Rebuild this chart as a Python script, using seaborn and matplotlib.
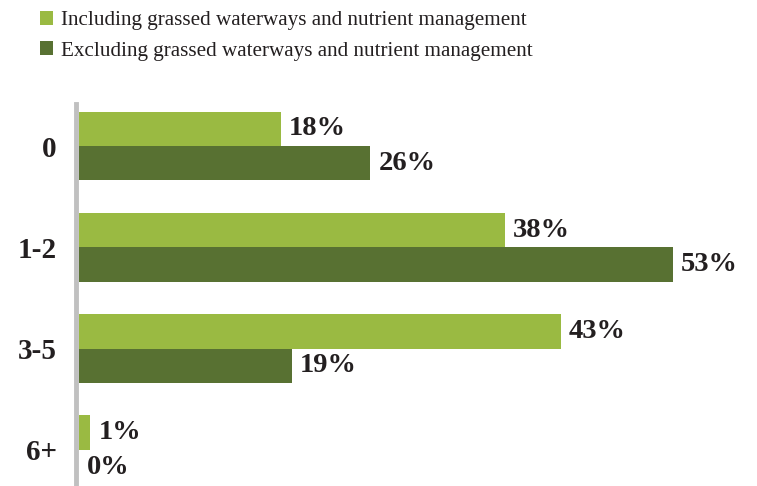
import matplotlib
matplotlib.use("Agg")
import matplotlib.pyplot as plt
import seaborn as sns
import pandas as pd
from matplotlib.patches import Patch

categories = ["0", "1-2", "3-5", "6+"]
including = [18, 38, 43, 1]
excluding = [26, 53, 19, 0]
series_names = [
    "Including grassed waterways and nutrient management",
    "Excluding grassed waterways and nutrient management",
]
colors = ["#9aba42", "#587132"]
text_color = "#231f20"

df = pd.DataFrame({
    "category": categories * 2,
    "value": including + excluding,
    "series": [series_names[0]] * len(categories) + [series_names[1]] * len(categories),
})

sns.set_style("white")
plt.rcParams["font.family"] = ["Liberation Serif", "DejaVu Serif"]

W, H = 757, 486
fig = plt.figure(figsize=(W / 100, H / 100), dpi=100)
# axes spans from the value axis line to the right edge
left, top, bottom = 79, 104, 486
ax = fig.add_axes([left / W, 1 - bottom / H, (W - left) / W, (bottom - top) / H])

sns.barplot(data=df, x="value", y="category", hue="series", order=categories,
            hue_order=series_names, palette=colors, orient="h", width=0.68,
            saturation=1, ax=ax, legend=False, errorbar=None, linewidth=0)

px_per_unit = 11.2
ax.set_xlim(0, (W - left) / px_per_unit)
ax.set_ylim(3.356, -0.415)

for cont in ax.containers:
    ax.bar_label(cont, labels=[f"{v:.0f}%" for v in cont.datavalues], padding=6,
                 fontsize=20.5, fontweight="bold", color=text_color)

for s in ["top", "right", "bottom"]:
    ax.spines[s].set_visible(False)
ax.spines["left"].set_color("#c0c0c0")
ax.spines["left"].set_linewidth(3.5)
ax.spines["left"].set_position(("outward", 2))
ax.set_xticks([])
ax.set_xlabel("")
ax.set_ylabel("")
ax.tick_params(axis="y", length=0, pad=14)
for t in ax.get_yticklabels():
    t.set_fontsize(21)
    t.set_fontweight("bold")
    t.set_color(text_color)

handles = [Patch(facecolor=c, edgecolor="none") for c in colors]
fig.legend(handles, series_names, loc="upper left", bbox_to_anchor=(34 / W, 1 - 5 / H),
           frameon=False, fontsize=15.2, handlelength=0.6, handleheight=0.6,
           handletextpad=0.4, labelspacing=0.52, labelcolor=text_color,
           borderaxespad=0, borderpad=0.3)

fig.savefig("out.png", dpi=100)
